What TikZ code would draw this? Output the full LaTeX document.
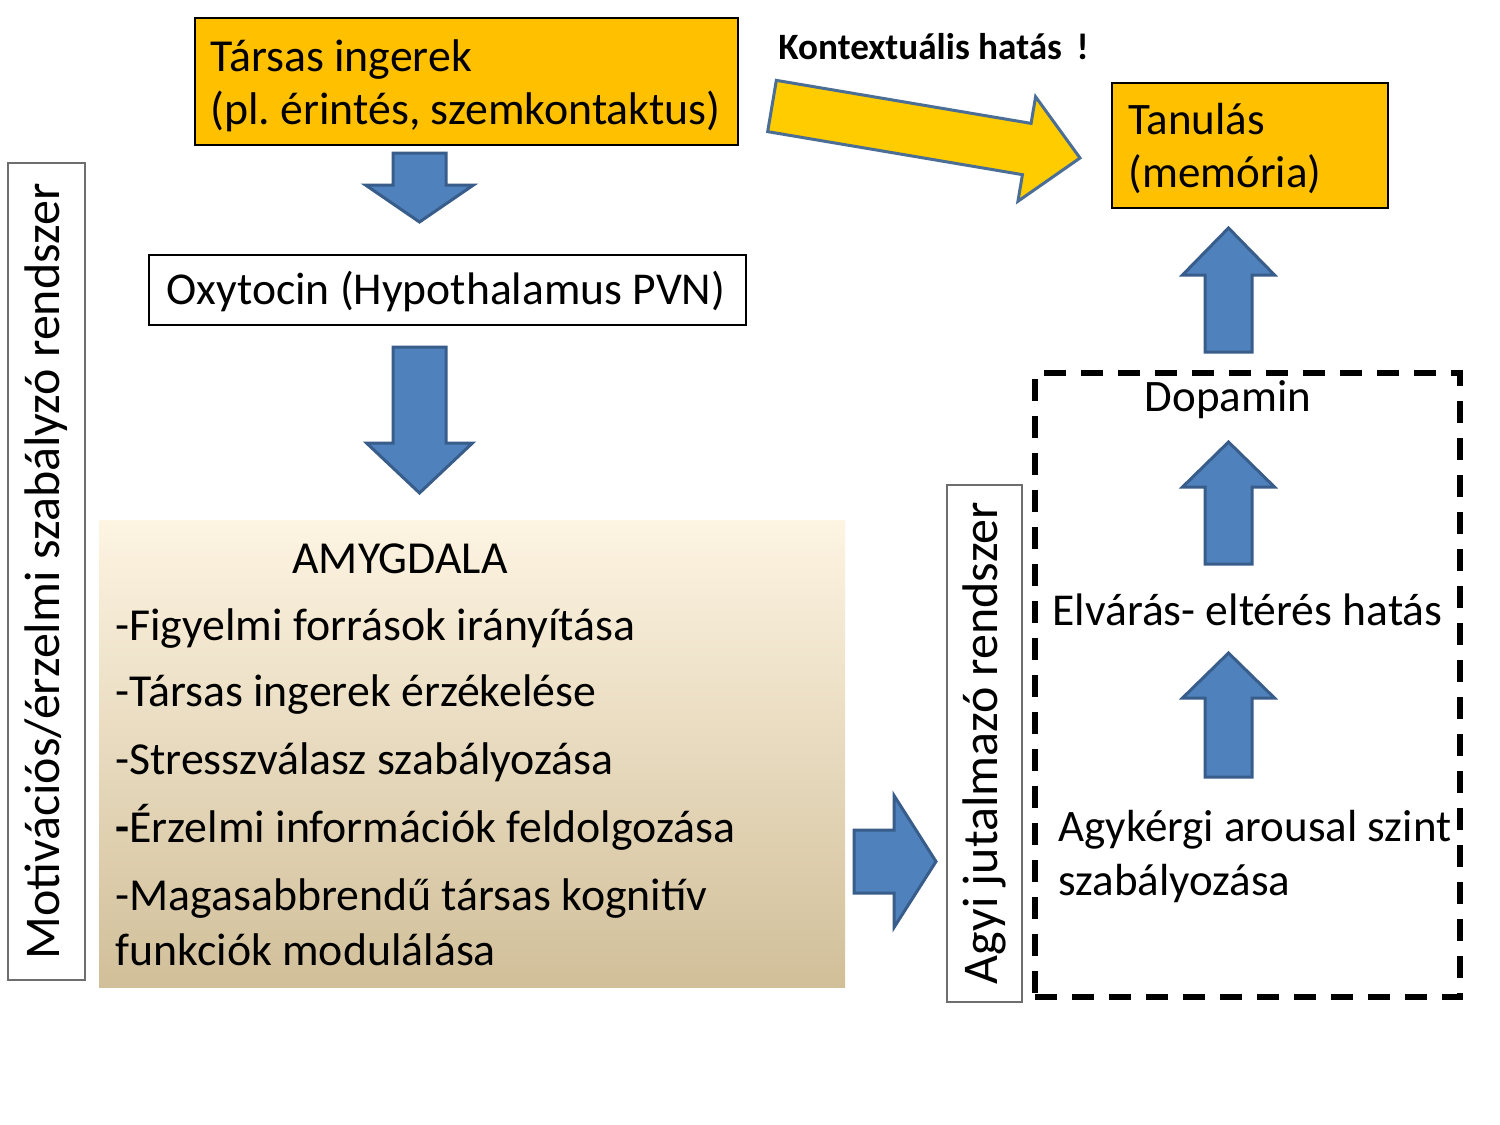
\documentclass[tikz,border=0pt]{standalone}
\usepackage{fontspec}
\setmainfont{Carlito}
\usetikzlibrary{calc}
\frenchspacing
\definecolor{orng}{HTML}{FFC000}
\definecolor{bfill}{HTML}{4F81BD}
\definecolor{bline}{HTML}{385D8A}
\definecolor{yfill}{HTML}{FFCC00}
\definecolor{yline}{HTML}{4A6E96}
\definecolor{gtop}{HTML}{FDF4E2}
\definecolor{gmid}{HTML}{F2E6CC}
\definecolor{gbot}{HTML}{D1BF99}
\definecolor{lblline}{HTML}{6E6E6E}
\newcommand\blockarrow[6]{%
  \coordinate (#2-#3-h) at ($(#3)!#6!(#2)$);
  \draw[#1] ($(#2)!#4!90:(#3)$) -- ($(#2-#3-h)!#4!90:(#3)$) -- ($(#2-#3-h)!#5!90:(#3)$) -- (#3)
    -- ($(#2-#3-h)!#5!-90:(#3)$) -- ($(#2-#3-h)!#4!-90:(#3)$) -- ($(#2)!#4!-90:(#3)$) -- cycle;}
\begin{document}
\begin{tikzpicture}[x=0.5pt,y=-0.5pt,
  txt/.style={font=\fontsize{22.5pt}{26.5pt}\selectfont, inner sep=0pt},
  amtxt/.style={font=\fontsize{22.9pt}{27.5pt}\selectfont, inner sep=0pt, anchor=base west},
  obox/.style={draw=black, line width=1pt, fill=orng, inner sep=0pt},
  lbl/.style={draw=lblline, line width=1pt, rotate=90, inner sep=0pt},
  barrow/.style={fill=bfill, draw=bline, line width=1.5pt, line join=miter},
  yarrow/.style={fill=yfill, draw=yline, line width=1.5pt, line join=miter}]
\useasboundingbox (0,0) rectangle (1500,1125);
\fill[white] (0,0) rectangle (1500,1125);

% boxes
\node[obox, minimum width=271.5pt, minimum height=63.5pt] (tars) at (466.5,81.5) {};
\node[draw=black, line width=1pt, fill=white, inner sep=0pt, minimum width=298.5pt, minimum height=35pt] (oxy) at (447.5,290) {};
\node[obox, minimum width=138pt, minimum height=62.5pt] (tan) at (1250,145.5) {};
\node[shade, top color=gtop, middle color=gmid, bottom color=gbot, minimum width=373pt, minimum height=233.5pt, inner sep=0pt] (amyg) at (472,753.5) {};
\node[lbl, minimum width=408.5pt, minimum height=38.5pt, font=\fontsize{25pt}{29pt}\selectfont] (mot) at (46.5,571.5) {Motivációs/érzelmi szabályzó rendszer};
\node[lbl, minimum width=258.5pt, minimum height=37.5pt, font=\fontsize{25pt}{29pt}\selectfont] (agyi) at (984.5,743) {Agyi jutalmazó rendszer};
\node[draw=black, line width=3pt, dash pattern=on 11pt off 7.5pt, minimum width=212.5pt, minimum height=312pt, inner sep=0pt] (jut) at (1247.5,685) {};

% box texts (base anchor of a multi-line node = baseline of its last line)
\node[txt, anchor=base west, align=flush left, font=\fontsize{22.9pt}{26.5pt}\selectfont] (tarst) at (210,124) {Társas ingerek\\(pl. érintés, szemkontaktus)};
\node[txt, anchor=base, font=\fontsize{22.8pt}{26.5pt}\selectfont] (oxyt) at (446,304) {Oxytocin (Hypothalamus PVN)};
\node[txt, anchor=base west, align=flush left] (tant) at (1128,187) {Tanulás\\(memória)};

% amygdala texts
\node[amtxt, anchor=base] (amt) at (400,573) {AMYGDALA};
\node[amtxt] (am1) at (115,640) {-Figyelmi források irányítása};
\node[amtxt] (am2) at (115,706) {-Társas ingerek érzékelése};
\node[amtxt] (am3) at (115,774) {-Stresszválasz szabályozása};
\node[amtxt] (am4) at (115,842) {{\bfseries -}Érzelmi információk feldolgozása};
\node[amtxt, align=flush left] (am5) at (115,965) {-Magasabbrendű társas kognitív\\funkciók modulálása};

% right side texts
\node[txt, anchor=base] (dop) at (1228,411) {Dopamin};
\node[txt, anchor=base, font=\fontsize{22.8pt}{26.5pt}\selectfont] (elv) at (1247.5,625) {Elvárás- eltérés hatás};
\node[txt, anchor=base west, align=flush left, font=\fontsize{22.5pt}{27pt}\selectfont] (agyk) at (1058,895) {Agykérgi arousal szint\\szabályozása};
\node[font=\fontsize{18.6pt}{22pt}\selectfont\bfseries, inner sep=0pt, anchor=base west] (ktx) at (778,59) {Kontextuális hatás \,!};

% arrow end points
\coordinate (a1s) at (419.5,153);  \coordinate (a1e) at (419.5,222);
\coordinate (a2s) at (419.5,347);  \coordinate (a2e) at (419.5,493);
\coordinate (a3s) at (854,861.5);  \coordinate (a3e) at (936,861.5);
\coordinate (a4s) at (1228.5,564); \coordinate (a4e) at (1228.5,442);
\coordinate (a5s) at (1228.5,777); \coordinate (a5e) at (1228.5,653);
\coordinate (a6s) at (1228.5,352); \coordinate (a6e) at (1228.5,228);
\coordinate (ys) at (772,106);     \coordinate (ye) at (1080,158);

\blockarrow{barrow}{a1s}{a1e}{13.25pt}{27pt}{18.5pt}
\blockarrow{barrow}{a2s}{a2e}{13.25pt}{26.5pt}{25pt}
\blockarrow{barrow}{a3s}{a3e}{15.75pt}{33pt}{21pt}
\blockarrow{barrow}{a4s}{a4e}{11.75pt}{23pt}{22.5pt}
\blockarrow{barrow}{a5s}{a5e}{11.75pt}{23pt}{22.5pt}
\blockarrow{barrow}{a6s}{a6e}{11.75pt}{23pt}{23.5pt}
\blockarrow{yarrow}{ys}{ye}{13pt}{26.5pt}{27pt}
\end{tikzpicture}
\end{document}
